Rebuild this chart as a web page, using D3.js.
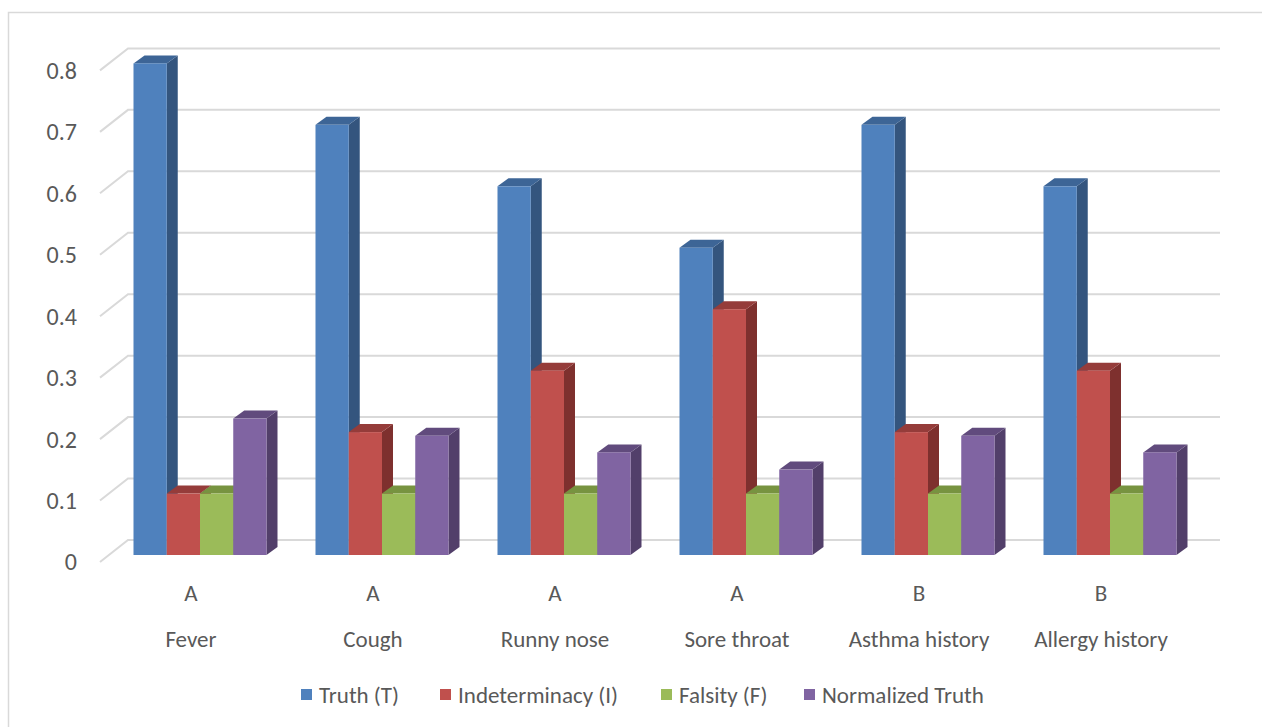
<!DOCTYPE html>
<html>
<head>
<meta charset="utf-8">
<script src="https://cdn.jsdelivr.net/npm/d3@7"></script>
<style>
  html, body { margin: 0; padding: 0; background: #fff; }
  svg text { font-family: Calibri, Carlito, Lato, sans-serif; fill: #595959; }
</style>
</head>
<body>
<svg id="chart" width="1262" height="727"></svg>
<script>
// Symptom categories, group codes and the four neutrosophic components
const categories = ["Fever", "Cough", "Runny nose", "Sore throat", "Asthma history", "Allergy history"];
const groups = ["A", "A", "A", "A", "B", "B"];
const seriesNames = ["Truth (T)", "Indeterminacy (I)", "Falsity (F)", "Normalized Truth"];
const truth = [0.8, 0.7, 0.6, 0.5, 0.7, 0.6];
const indeterminacy = [0.1, 0.2, 0.3, 0.4, 0.2, 0.3];
const falsity = [0.1, 0.1, 0.1, 0.1, 0.1, 0.1];
const normalizedTruth = [0.222, 0.194, 0.167, 0.139, 0.194, 0.167];
const yTicks = [0, 0.1, 0.2, 0.3, 0.4, 0.5, 0.6, 0.7, 0.8];

const seriesValues = [truth, indeterminacy, falsity, normalizedTruth];
// front, top, side shades per series
const palette = [
  { front: "#4f81bd", top: "#3d6596", side: "#34557e" },
  { front: "#c0504d", top: "#953c3a", side: "#7e302e" },
  { front: "#9bbb59", top: "#779340", side: "#6a8537" },
  { front: "#8064a2", top: "#614b7d", side: "#523f6a" }
];

const svg = d3.select("#chart");

// outer chart-area frame
svg.append("rect")
  .attr("x", 8.5).attr("y", 12.5)
  .attr("width", 1300).attr("height", 800)
  .attr("fill", "none").attr("stroke", "#d9d9d9").attr("stroke-width", 1.5);

// Oblique 3D layout: front plane of the floor, wall depth and bar depth
const frontLeft = 100, frontRight = 1192;
const floorFrontY = 562;
const wallDepth = { dx: 28, dy: -22 };
const barOffset = { dx: 9, dy: -7 };     // bar front face inside the depth
const barDepth = { dx: 11, dy: -8 };

// value scale measured on the floor's front edge
const y = d3.scaleLinear().domain([0, 0.8]).range([floorFrontY, floorFrontY - 491.6]);

const x = d3.scaleBand().domain(categories).range([frontLeft, frontRight]).padding(0);
const bw = x.bandwidth();
const xs = d3.scaleBand().domain(d3.range(seriesNames.length))
  .range([bw * 0.1346, bw * 0.8654]).padding(0);

// gridlines: side wall diagonal then back wall
const grid = svg.append("g");
yTicks.forEach(t => {
  const yf = y(t);
  grid.append("path")
    .attr("d", `M${frontLeft},${yf} L${frontLeft + wallDepth.dx},${yf + wallDepth.dy} L${frontRight + wallDepth.dx},${yf + wallDepth.dy}`)
    .attr("fill", "none").attr("stroke", "#d9d9d9").attr("stroke-width", 2);
});

// y-axis tick labels
svg.append("g").selectAll("text").data(yTicks).join("text")
  .attr("x", 77).attr("y", d => y(d))
  .attr("dy", "0.35em")
  .attr("text-anchor", "end")
  .attr("font-size", 24)
  .text(d => d3.format("")(d));

// bars, drawn left to right so each front face covers its neighbour's side
const bars = svg.append("g");
categories.forEach((c, ci) => {
  seriesValues.forEach((vals, si) => {
    const v = vals[ci];
    const x0 = x(c) + xs(si) + barOffset.dx;
    const x1 = x0 + xs.bandwidth();
    const yb = y(0) + barOffset.dy;
    const yt = y(v) + barOffset.dy;
    const dx = barDepth.dx, dy = barDepth.dy;
    const col = palette[si];
    // right side face
    bars.append("path")
      .attr("d", `M${x1},${yb} L${x1 + dx},${yb + dy} L${x1 + dx},${yt + dy} L${x1},${yt} Z`)
      .attr("fill", col.side);
    // top face
    bars.append("path")
      .attr("d", `M${x0},${yt} L${x0 + dx},${yt + dy} L${x1 + dx},${yt + dy} L${x1},${yt} Z`)
      .attr("fill", col.top);
    // front face
    bars.append("rect")
      .attr("x", x0).attr("y", yt)
      .attr("width", x1 - x0).attr("height", yb - yt)
      .attr("fill", col.front);
  });
});

// category axis: group code row and symptom name row
const cats = svg.append("g");
categories.forEach((c, ci) => {
  const cx = x(c) + bw / 2;
  cats.append("text")
    .attr("x", cx).attr("y", 593).attr("dy", "0.35em")
    .attr("text-anchor", "middle").attr("font-size", 23)
    .text(groups[ci]);
  cats.append("text")
    .attr("x", cx).attr("y", 639).attr("dy", "0.35em")
    .attr("text-anchor", "middle").attr("font-size", 23)
    .text(c);
});

// legend
const legendX = [301, 440, 661, 804];
const legend = svg.append("g");
seriesNames.forEach((name, si) => {
  legend.append("rect")
    .attr("x", legendX[si]).attr("y", 689)
    .attr("width", 11).attr("height", 11)
    .attr("fill", palette[si].front);
  legend.append("text")
    .attr("x", legendX[si] + 18).attr("y", 695).attr("dy", "0.35em")
    .attr("font-size", 23)
    .text(name);
});
</script>
</body>
</html>
